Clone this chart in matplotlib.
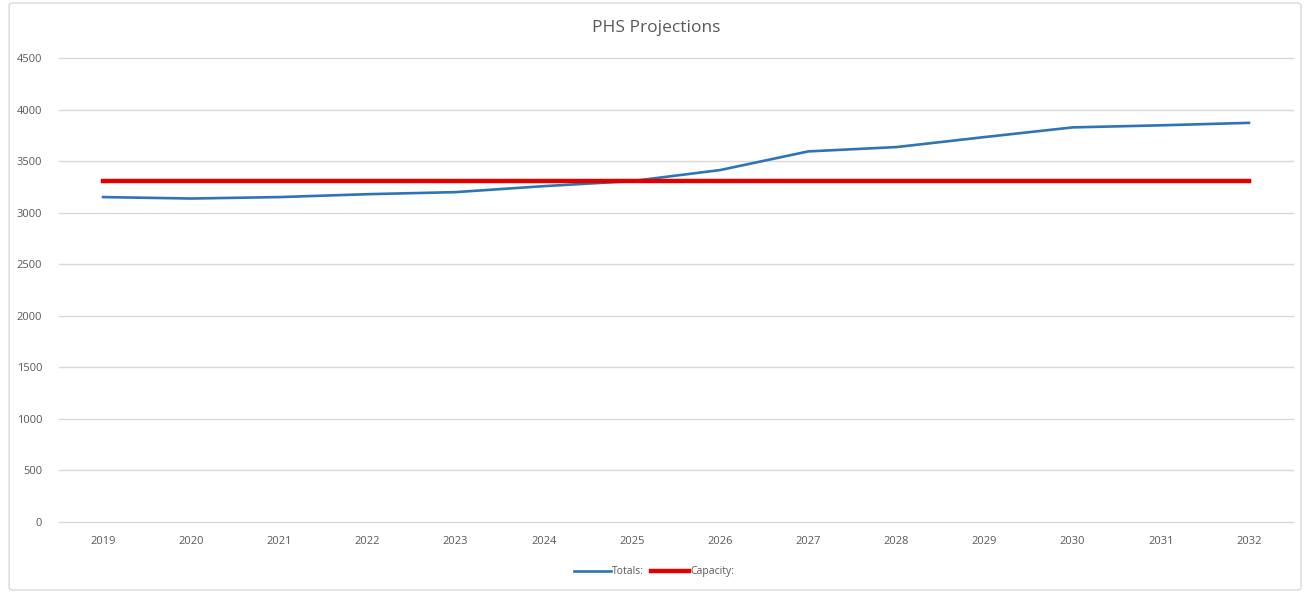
import matplotlib.pyplot as plt
from matplotlib.patches import FancyBboxPatch

plt.rcParams['font.family'] = ['Open Sans', 'DejaVu Sans']

years = ['2019', '2020', '2021', '2022', '2023', '2024', '2025',
         '2026', '2027', '2028', '2029', '2030', '2031', '2032']
totals = [3152, 3138, 3152, 3180, 3200, 3258, 3307,
          3414, 3595, 3637, 3734, 3828, 3848, 3872]
capacity = [3307] * len(years)
yticks = [0, 500, 1000, 1500, 2000, 2500, 3000, 3500, 4000, 4500]

fig = plt.figure(figsize=(13.05, 5.93), dpi=100)
ax = fig.add_axes([0.0452, 0.1197, 0.9456, 0.7823])

# chart border
fig.patches.append(FancyBboxPatch((0.007, 0.005), 0.99, 0.99,
                                  boxstyle='round,pad=0,rounding_size=0.004',
                                  transform=fig.transFigure, fill=False,
                                  edgecolor='#d9d9d9', linewidth=1))

x = range(len(years))
ax.plot(x, totals, color='#2e75b6', linewidth=1.9, label='Totals:')
ax.plot(x, capacity, color='#e00000', linewidth=3.2, label='Capacity:')

ax.set_xlim(-0.5, len(years) - 0.5)
ax.set_ylim(0, 4500)
ax.set_yticks(yticks)
ax.set_xticks(list(x))
ax.set_xticklabels(years)
ax.grid(axis='y', color='#d9d9d9', linewidth=1)
for gl in ax.get_ygridlines():
    gl.set_clip_on(False)
ax.set_axisbelow(True)
for s in ax.spines.values():
    s.set_visible(False)
ax.tick_params(length=0, labelsize=8, labelcolor='#595959')
ax.tick_params(axis='y', pad=12)
ax.tick_params(axis='x', pad=10)

fig.text(0.503, 0.953, 'PHS Projections', ha='center', va='center',
         fontsize=12.5, color='#595959')

ax.legend(loc='center', bbox_to_anchor=(0.482, -0.107), ncol=2, frameon=False,
          fontsize=7.5, labelcolor='#595959', handlelength=3.6, handletextpad=0.1,
          columnspacing=0.7)

fig.savefig('out.png', dpi=100)
